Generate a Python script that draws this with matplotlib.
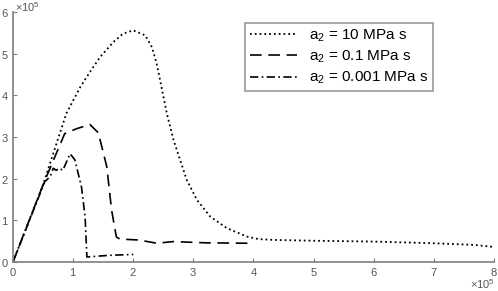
import numpy as np
import matplotlib.pyplot as plt
from matplotlib.ticker import ScalarFormatter

plt.rcParams['font.family'] = ['Liberation Sans', 'DejaVu Sans']
plt.rcParams['mathtext.default'] = 'regular'

# values, in units of 1e5
x_10 = [0, 0.5, 0.78, 0.89, 1.12, 1.28, 1.45, 1.67, 1.83, 2.0, 2.2, 2.31, 2.39, 2.47,
        2.56, 2.67, 2.78, 2.89, 3.06, 3.28, 3.56, 3.89, 4.08, 4.33, 5.0, 6.0, 7.0,
        7.67, 8.0]
y_10 = [0, 1.85, 3.09, 3.57, 4.2, 4.56, 4.92, 5.28, 5.48, 5.56, 5.44, 5.16, 4.76, 4.2,
        3.56, 2.93, 2.45, 1.97, 1.49, 1.09, 0.81, 0.61, 0.55, 0.53, 0.51, 0.49, 0.45,
        0.41, 0.36]

x_01 = [0, 0.5, 0.86, 1.06, 1.28, 1.42, 1.56, 1.64, 1.72, 1.78, 2.06, 2.2, 2.39, 2.67,
        3.2, 3.9]
y_01 = [0, 1.85, 3.08, 3.2, 3.3, 3.1, 2.29, 1.25, 0.6, 0.55, 0.53, 0.5, 0.45, 0.49,
        0.46, 0.45]

x_0001 = [0, 0.53, 0.62, 0.67, 0.72, 0.77, 0.83, 0.95, 1.03, 1.14, 1.2, 1.23, 1.6, 2.0]
y_0001 = [0, 1.93, 2.05, 2.25, 2.2, 2.25, 2.2, 2.6, 2.45, 1.8, 1.08, 0.12, 0.16, 0.18]

labels = ['a$_2$ = 10 MPa s', 'a$_2$ = 0.1 MPa s', 'a$_2$ = 0.001 MPa s']

grey = '#7f7f7f'
txt = '#555555'
fig = plt.figure(figsize=(4.98, 2.91), dpi=100)
ax = fig.add_axes([0.026, 0.0997, 0.966, 0.859])

s = 1e5
ax.plot(np.array(x_10) * s, np.array(y_10) * s, ':', color='black', lw=1.3, label=labels[0])
ax.plot(np.array(x_01) * s, np.array(y_01) * s, color='black', lw=1.2,
        dashes=(7, 4), label=labels[1])
ax.plot(np.array(x_0001) * s, np.array(y_0001) * s, color='black', lw=1.2,
        dashes=(5, 2, 1, 2), label=labels[2])

ax.set_xlim(0, 8e5)
ax.set_ylim(0, 6e5)
ax.set_xticks(np.arange(0, 9) * s)
ax.set_yticks(np.arange(0, 7) * s)
for axis in (ax.xaxis, ax.yaxis):
    f = ScalarFormatter(useMathText=True)
    f.set_powerlimits((0, 0))
    axis.set_major_formatter(f)
    axis.get_offset_text().set_visible(False)

# the x10^5 multipliers, placed where the reference has them
fig.text(0.03, 0.998, '×10$^5$', ha='left', va='top', fontsize=8, color=txt)
fig.text(0.994, 0.0, '×10$^5$', ha='right', va='bottom', fontsize=8, color=txt)

for side in ('top', 'right'):
    ax.spines[side].set_visible(False)
for side in ('left', 'bottom'):
    ax.spines[side].set_color(grey)
    ax.spines[side].set_linewidth(1.2)
ax.tick_params(direction='in', length=3, color=grey, labelsize=8,
               labelcolor=txt, pad=3)

leg = ax.legend(loc='upper left', bbox_to_anchor=(0.483, 0.958), fontsize=11,
                handlelength=3.1, frameon=True, fancybox=False, borderpad=0.3,
                borderaxespad=0, labelspacing=0.33, handletextpad=0.75)
leg.get_frame().set_edgecolor(grey)
leg.get_frame().set_linewidth(1.2)

fig.savefig('out.png', dpi=100)
